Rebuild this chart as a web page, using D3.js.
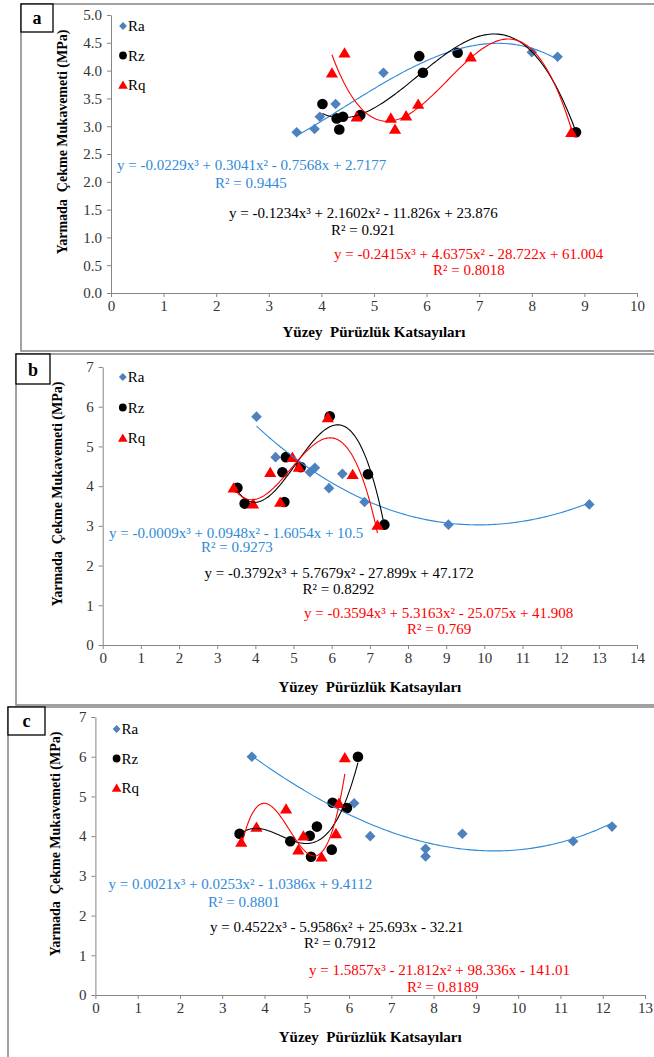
<!DOCTYPE html>
<html lang="tr">
<head>
<meta charset="utf-8">
<title>Yarmada Çekme Mukavemeti - Yüzey Pürüzlük</title>
<script src="https://d3js.org/d3.v7.min.js"></script>
<style>
  body { margin: 0; background: #fff; }
  svg text { font-family: "Liberation Serif", "Times New Roman", serif; }
  .tick text { font-size: 15px; fill: #333; }
  .domain, .tick line { stroke: #868686; }
</style>
</head>
<body>
<svg id="chart" width="654" height="1057" font-family="Liberation Serif, serif"></svg>
<script>
// ---- data ----
// panel a
var aRaX = [3.53, 3.87, 3.97, 4.27, 5.18, 8.00, 8.49];
var aRaY = [2.89, 2.95, 3.17, 3.40, 3.96, 4.33, 4.25];
var aRzX = [4.02, 4.29, 4.41, 4.34, 4.74, 5.86, 5.93, 6.59, 8.84];
var aRzY = [3.40, 3.14, 3.17, 2.94, 3.20, 4.26, 3.96, 4.32, 2.89];
var aRqX = [4.20, 4.44, 4.67, 5.32, 5.40, 5.61, 5.84, 6.84, 8.75];
var aRqY = [3.96, 4.32, 3.17, 3.15, 2.95, 3.19, 3.40, 4.25, 2.89];
// panel b
var bRaX = [4.03, 4.53, 5.43, 5.56, 5.93, 6.28, 6.86, 9.06, 12.75];
var bRaY = [5.75, 4.73, 4.35, 4.46, 3.95, 4.31, 3.60, 3.03, 3.54];
var bRzX = [3.53, 3.72, 4.71, 4.76, 4.80, 5.19, 5.95, 6.95, 7.38];
var bRzY = [3.96, 3.56, 4.35, 3.60, 4.73, 4.48, 5.76, 4.30, 3.03];
var bRqX = [3.43, 3.94, 4.39, 4.65, 4.97, 5.14, 5.90, 6.55, 7.20];
var bRqY = [3.96, 3.56, 4.35, 3.60, 4.73, 4.48, 5.73, 4.30, 3.02];
// panel c
var cRaX = [3.70, 6.12, 6.50, 7.81, 7.81, 8.68, 11.30, 12.22];
var cRaY = [6.00, 4.83, 4.00, 3.68, 3.49, 4.06, 3.87, 4.24];
var cRzX = [3.41, 4.61, 5.07, 5.24, 5.10, 5.59, 5.61, 5.95, 6.21];
var cRzY = [4.06, 3.87, 4.01, 4.24, 3.48, 3.66, 4.84, 4.71, 6.00];
var cRqX = [3.45, 3.81, 4.51, 4.80, 4.92, 5.35, 5.69, 5.76, 5.90];
var cRqY = [3.85, 4.23, 4.69, 3.66, 4.01, 3.48, 4.07, 4.83, 5.98];

// trendline coefficients [x^3, x^2, x, 1] as printed on the chart
var aRaFit = [-0.0229, 0.3041, -0.7568, 2.7177];
var aRzFit = [-0.1234, 2.1602, -11.826, 23.876];
var aRqFit = [-0.2415, 4.6375, -28.722, 61.004];
var bRaFit = [-0.0009, 0.0948, -1.6054, 10.5];
var bRzFit = [-0.3792, 5.7679, -27.899, 47.172];
var bRqFit = [-0.3594, 5.3163, -25.075, 41.908];
var cRaFit = [0.0021, 0.0253, -1.0386, 9.4112];
var cRzFit = [0.4522, -5.9586, 25.693, -32.21];
var cRqFit = [1.5857, -21.812, 98.336, -141.01];

var aEq = ["y = -0.0229x³ + 0.3041x² - 0.7568x + 2.7177", "R² = 0.9445",
           "y = -0.1234x³ + 2.1602x² - 11.826x + 23.876", "R² = 0.921",
           "y = -0.2415x³ + 4.6375x² - 28.722x + 61.004", "R² = 0.8018"];
var bEq = ["y = -0.0009x³ + 0.0948x² - 1.6054x + 10.5", "R² = 0.9273",
           "y = -0.3792x³ + 5.7679x² - 27.899x + 47.172", "R² = 0.8292",
           "y = -0.3594x³ + 5.3163x² - 25.075x + 41.908", "R² = 0.769"];
var cEq = ["y = 0.0021x³ + 0.0253x² - 1.0386x + 9.4112", "R² = 0.8801",
           "y = 0.4522x³ - 5.9586x² + 25.693x - 32.21", "R² = 0.7912",
           "y = 1.5857x³ - 21.812x² + 98.336x - 141.01", "R² = 0.8189"];

var aYTicks = [0, 0.5, 1, 1.5, 2, 2.5, 3, 3.5, 4, 4.5, 5];
var aXTicks = [0, 1, 2, 3, 4, 5, 6, 7, 8, 9, 10];
var bYTicks = [0, 1, 2, 3, 4, 5, 6, 7];
var bXTicks = [0, 1, 2, 3, 4, 5, 6, 7, 8, 9, 10, 11, 12, 13, 14];
var cYTicks = [0, 1, 2, 3, 4, 5, 6, 7];
var cXTicks = [0, 1, 2, 3, 4, 5, 6, 7, 8, 9, 10, 11, 12, 13];

var seriesNames = ["Ra", "Rz", "Rq"];
var xTitle = "Yüzey  Pürüzlük Katsayıları";
var yTitle = "Yarmada  Çekme Mukavemeti (MPa)";

// ---- styling ----
var serif = "'Liberation Serif', 'Times New Roman', serif";
var markColor = ["#4f81bd", "#000000", "#ff0000"];
var lineColor = ["#2f8ad8", "#000000", "#ff0000"];

var svg = d3.select("#chart");

function poly(c, x) { return ((c[0] * x + c[1]) * x + c[2]) * x + c[3]; }

function markerPath(kind, s) {
  if (kind == 0) return "M0," + (-s) + "L" + s + ",0L0," + s + "L" + (-s) + ",0Z";
  if (kind == 1) return d3.arc()({innerRadius: 0, outerRadius: s, startAngle: 0, endAngle: 2 * Math.PI});
  return "M0," + (-s * 1.05) + "L" + (s * 1.15) + "," + (s * 0.9) + "L" + (-s * 1.15) + "," + (s * 0.9) + "Z";
}

function drawPanel(p) {
  var g = svg.append("g");
  // frame
  g.append("rect").attr("x", p.frame[0]).attr("y", p.frame[1])
    .attr("width", 700).attr("height", p.frame[2] - p.frame[1])
    .attr("fill", "none").attr("stroke", "#8a8a8a").attr("stroke-width", 1.6);
  // label box
  g.append("rect").attr("x", p.box[0]).attr("y", p.box[1])
    .attr("width", p.box[2]).attr("height", p.box[3])
    .attr("fill", "#fff").attr("stroke", "#000").attr("stroke-width", 1.3);
  g.append("text").attr("x", p.box[0] + p.box[2] / 2).attr("y", p.box[1] + p.box[3] - 8)
    .attr("text-anchor", "middle").attr("font-weight", "bold").attr("font-size", 18)
    .style("font-family", serif).text(p.id);

  var x = d3.scaleLinear().domain([0, p.xTicks[p.xTicks.length - 1]]).range(p.xr);
  var y = d3.scaleLinear().domain([0, p.yTicks[p.yTicks.length - 1]]).range(p.yr);

  var xa = g.append("g").attr("transform", "translate(0," + p.yr[0] + ")")
    .call(d3.axisBottom(x).tickValues(p.xTicks).tickSize(4).tickSizeOuter(0).tickPadding(3)
      .tickFormat(d3.format("d")));
  var ya = g.append("g").attr("transform", "translate(" + p.xr[0] + ",0)")
    .call(d3.axisLeft(y).tickValues(p.yTicks).tickSize(4).tickSizeOuter(0).tickPadding(5)
      .tickFormat(p.yFmt));
  xa.attr("font-family", null).attr("font-size", null);
  ya.attr("font-family", null).attr("font-size", null);
  g.selectAll(".tick text").style("font-family", serif);

  // axis titles
  g.append("text").attr("x", (p.xr[0] + p.xr[1]) / 2).attr("y", p.xTitleY)
    .attr("text-anchor", "middle").attr("font-weight", "bold").attr("font-size", 15)
    .style("font-family", serif).style("white-space", "pre").text(xTitle);
  g.append("text").attr("transform", "translate(" + p.yTitle[0] + "," + p.yTitle[1] + ") rotate(-90)")
    .attr("text-anchor", "middle").attr("font-weight", "bold").attr("font-size", 14)
    .style("font-family", serif).style("white-space", "pre").text(yTitle);

  // markers
  p.series.forEach(function (s, k) {
    g.append("g").selectAll("path").data(d3.range(s.x.length)).enter().append("path")
      .attr("d", markerPath(k, k == 1 ? 5.3 : 5.3))
      .attr("fill", markColor[k])
      .attr("transform", function (i) { return "translate(" + x(s.x[i]) + "," + y(s.y[i]) + ")"; });
  });

  // trendlines
  var line = d3.line().x(function (d) { return x(d[0]); }).y(function (d) { return y(d[1]); });
  p.series.forEach(function (s, k) {
    var lo = d3.min(s.x), hi = d3.max(s.x);
    var pts = d3.range(0, 121).map(function (i) {
      var xv = lo + (hi - lo) * i / 120;
      return [xv, poly(s.fit, xv)];
    });
    g.append("path").datum(pts).attr("d", line)
      .attr("fill", "none").attr("stroke", lineColor[k]).attr("stroke-width", 1.1);
  });

  // legend
  seriesNames.forEach(function (n, k) {
    var ly = p.legend[1] + k * p.legend[2];
    g.append("path").attr("d", markerPath(k, k == 2 ? 4.2 : 3.9))
      .attr("fill", markColor[k])
      .attr("transform", "translate(" + p.legend[0] + "," + ly + ")");
    g.append("text").attr("x", p.legend[0] + 5).attr("y", ly + 5)
      .attr("font-size", 15).style("font-family", serif).text(n);
  });

  // equations
  p.eq.forEach(function (t, i) {
    g.append("text").attr("x", p.eqPos[i][0]).attr("y", p.eqPos[i][1] + 5)
      .attr("font-size", 15).attr("fill", lineColor[Math.floor(i / 2)])
      .style("font-family", serif).style("white-space", "pre").text(t);
  });
}

drawPanel({
  id: "a", frame: [21, 4, 351], box: [21, 4, 32, 28],
  xr: [111, 637], yr: [293, 15], xTicks: aXTicks, yTicks: aYTicks, yFmt: d3.format(".1f"),
  xTitleY: 337, yTitle: [67, 142],
  series: [{x: aRaX, y: aRaY, fit: aRaFit}, {x: aRzX, y: aRzY, fit: aRzFit}, {x: aRqX, y: aRqY, fit: aRqFit}],
  legend: [123, 26, 29.5],
  eq: aEq, eqPos: [[117, 165], [215, 183], [229, 213], [331, 230], [334, 254], [433, 270]]
});
drawPanel({
  id: "b", frame: [16, 354, 705], box: [16, 354, 34, 30],
  xr: [102.7, 637], yr: [645, 367], xTicks: bXTicks, yTicks: bYTicks, yFmt: d3.format("d"),
  xTitleY: 692, yTitle: [62, 494],
  series: [{x: bRaX, y: bRaY, fit: bRaFit}, {x: bRzX, y: bRzY, fit: bRzFit}, {x: bRqX, y: bRqY, fit: bRqFit}],
  legend: [122.8, 377, 30.5],
  eq: bEq, eqPos: [[109, 533], [201, 547], [204.5, 573], [302.5, 589], [304, 613], [407, 629]]
});
drawPanel({
  id: "c", frame: [8, 707, 1100], box: [8, 707, 37, 28],
  xr: [95.4, 645], yr: [995, 717], xTicks: cXTicks, yTicks: cYTicks, yFmt: d3.format("d"),
  xTitleY: 1042, yTitle: [60, 844],
  series: [{x: cRaX, y: cRaY, fit: cRaFit}, {x: cRzX, y: cRzY, fit: cRzFit}, {x: cRqX, y: cRqY, fit: cRqFit}],
  legend: [116.6, 729, 29.5],
  eq: cEq, eqPos: [[108.5, 884], [208, 902], [210, 927], [304, 943], [309, 970], [407, 987]]
});
</script>
</body>
</html>
